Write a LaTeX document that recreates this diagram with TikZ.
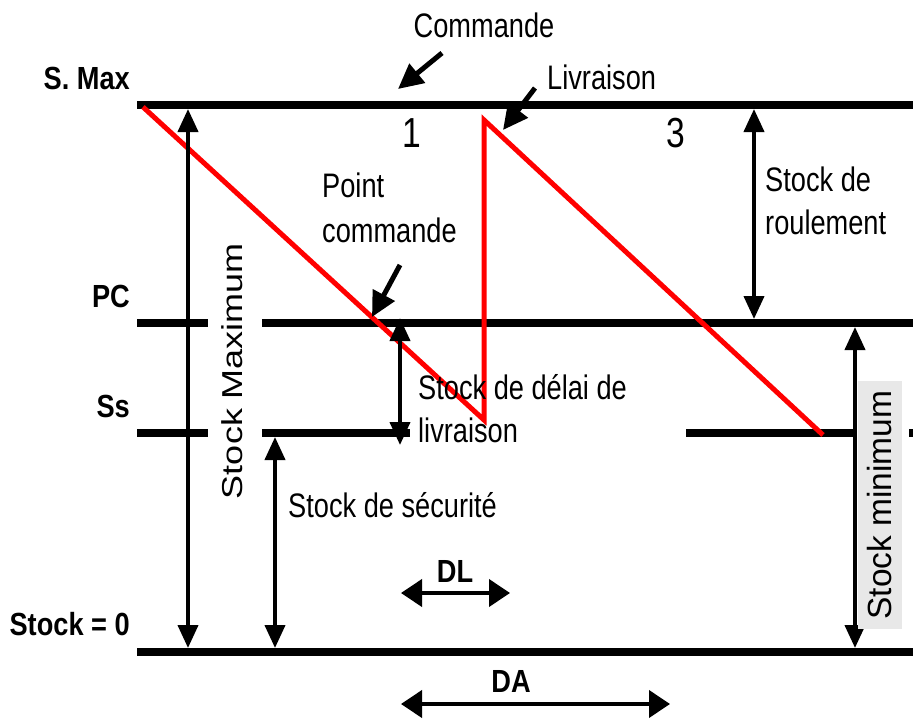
\documentclass[tikz,border=0pt]{standalone}
\usepackage{fontspec}
\setmainfont{Liberation Sans}
\newfontfamily\rmf{Liberation Sans}[FakeStretch=0.8]
\newfontfamily\bff{Liberation Sans}[FakeStretch=0.85]
\newfontfamily\plainf{Liberation Sans}
\usetikzlibrary{arrows.meta}
\tikzset{
  lvl/.style={line width=8pt},
  curve/.style={red, line width=5pt, line join=miter},
  dimv/.style={line width=4pt, {Triangle[length=23pt,width=20pt]}-{Triangle[length=23pt,width=20pt]}},
  dimh/.style={line width=4pt, {Triangle[length=21pt,width=27pt]}-{Triangle[length=21pt,width=27pt]}},
  ptr/.style={line width=5pt, -{Triangle[length=25pt,width=24pt]}},
  lbl/.style={font=\rmf\fontsize{34}{42}\selectfont, inner sep=0pt},
  numlbl/.style={font=\rmf\fontsize{42}{48}\selectfont, inner sep=0pt},
  blbl/.style={font=\bff\bfseries\fontsize{32}{38}\selectfont, inner sep=0pt},
}
\begin{document}
\begin{tikzpicture}[x=1pt,y=-1pt]
\useasboundingbox[fill=white] (0,0) rectangle (913,720);

% level lines
\coordinate (smL) at (137,105); \coordinate (smR) at (913,105);
\coordinate (pcA) at (137,323); \coordinate (pcB) at (208,323);
\coordinate (pcC) at (262,323); \coordinate (pcD) at (913,323);
\coordinate (ssA) at (137,433); \coordinate (ssB) at (208,433);
\coordinate (ssC) at (262,433); \coordinate (ssD) at (410,433);
\coordinate (ssE) at (686,433); \coordinate (ssF) at (855,433);
\coordinate (ssG) at (909,433); \coordinate (ssH) at (913,433);
\coordinate (zL) at (137,652); \coordinate (zR) at (913,652);
\draw[lvl] (smL) -- (smR);
\draw[lvl] (pcA) -- (pcB);
\draw[lvl] (pcC) -- (pcD);
\draw[lvl] (ssA) -- (ssB);
\draw[lvl] (ssC) -- (ssD);
\draw[lvl] (ssE) -- (ssF);
\draw[lvl] (ssG) -- (ssH);
\draw[lvl] (zL) -- (zR);

% stock curve
\coordinate (r0) at (143,107); \coordinate (r1) at (484,420);
\coordinate (r2) at (484,120); \coordinate (r3) at (823,435);
\draw[curve] (r0) -- (r1) -- (r2) -- (r3);

% dimension arrows
\coordinate (maxT) at (188,109); \coordinate (maxB) at (188,648);
\coordinate (secT) at (275,437); \coordinate (secB) at (275,648);
\coordinate (delT) at (400,318); \coordinate (delB) at (400,445);
\coordinate (rouT) at (754,109); \coordinate (rouB) at (754,319);
\coordinate (minT) at (855,327); \coordinate (minB) at (855,648);
\draw[dimv] (maxT) -- (maxB);
\draw[dimv] (secT) -- (secB);
\draw[dimv] (delT) -- (delB);
\draw[dimv] (rouT) -- (rouB);
\draw[dimv] (minT) -- (minB);

\coordinate (dlL) at (401,593); \coordinate (dlR) at (510,593);
\coordinate (daL) at (401,704); \coordinate (daR) at (670,704);
\draw[dimh] (dlL) -- (dlR);
\draw[dimh] (daL) -- (daR);

% pointers
\coordinate (cmdS) at (442,53); \coordinate (cmdE) at (398,89);
\coordinate (livS) at (535,88); \coordinate (livE) at (503,130);
\coordinate (pcS) at (400,265); \coordinate (pcE) at (372,317);
\draw[ptr] (cmdS) -- (cmdE);
\draw[ptr] (livS) -- (livE);
\draw[ptr] (pcS) -- (pcE);

% labels
\node[blbl, anchor=base east] (lsmax) at (130,89) {S. Max};
\node[blbl, anchor=base east] (lpc) at (130,307) {PC};
\node[blbl, anchor=base east] (lss) at (130,417) {Ss};
\node[blbl, anchor=base east] (lzero) at (130,635) {Stock = 0};
\node[blbl, anchor=base] (ldl) at (455,582) {DL};
\node[blbl, anchor=base] (lda) at (511,692) {DA};

\node[lbl, anchor=base] (lcmd) at (484,37) {Commande};
\node[lbl, anchor=base west] (lliv) at (547,89) {Livraison};
\node[numlbl, anchor=base] (lone) at (412,147) {1};
\node[numlbl, anchor=base] (lthree) at (676,147) {3};
\node[lbl, anchor=base west] (lpt1) at (322,197) {Point};
\node[lbl, anchor=base west] (lpt2) at (322,242) {commande};
\node[lbl, anchor=base west] (lrou1) at (765,191) {Stock de};
\node[lbl, anchor=base west] (lrou2) at (765,234) {roulement};
\node[lbl, anchor=base west] (ldel1) at (418,399) {Stock de délai de};
\node[lbl, anchor=base west] (ldel2) at (418,442) {livraison};
\node[lbl, anchor=base west] (lsec) at (288,517) {Stock de sécurité};

\node[inner sep=0pt, rotate=90, font=\plainf\fontsize{36}{40}\selectfont] (lmax) at (232,371) {\scalebox{1}[0.8]{Stock Maximum}};
\node[inner xsep=10pt, inner ysep=10pt, rotate=90, fill=black!9, font=\plainf\fontsize{33.5}{38}\selectfont] (lmin) at (880,505) {Stock minimum};
\end{tikzpicture}
\end{document}
